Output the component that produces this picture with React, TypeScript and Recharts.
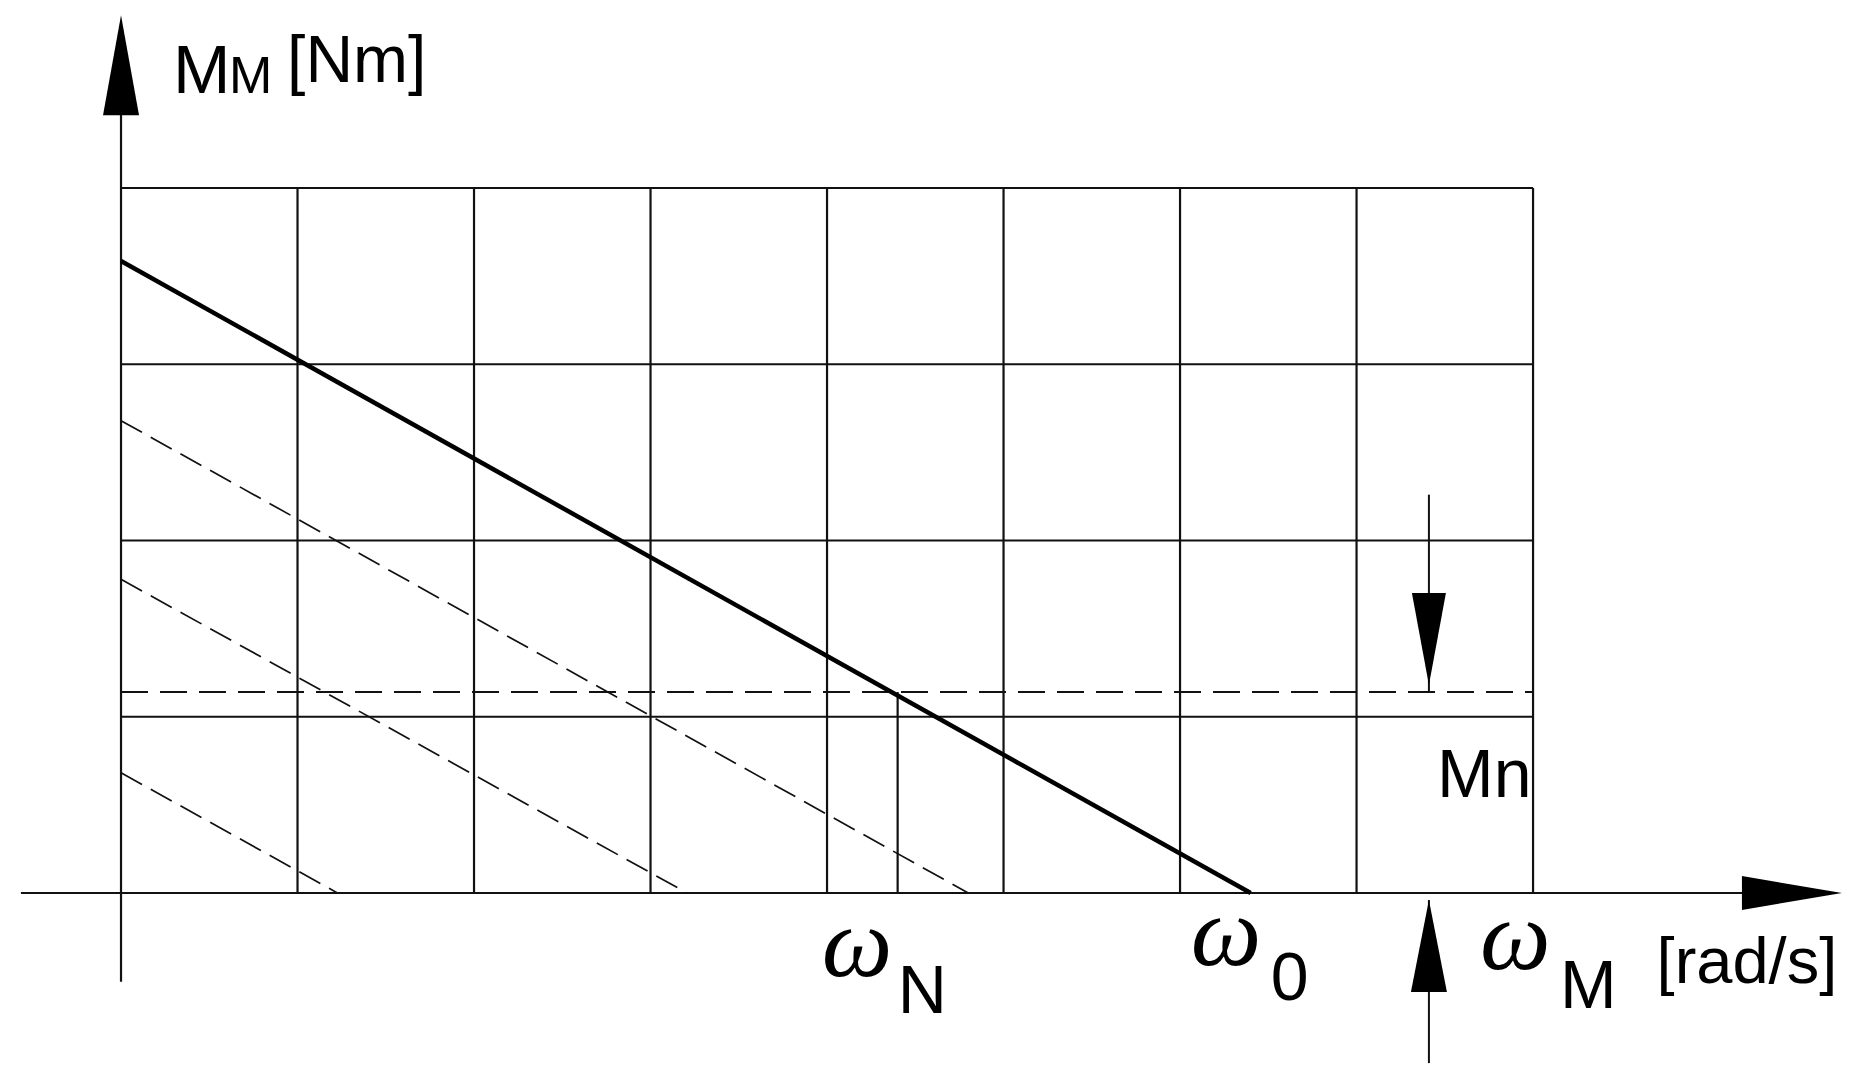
import { LineChart, Line, XAxis, YAxis, ReferenceLine, ReferenceDot } from 'recharts';

// grid units: one cell on each axis
const gridCols = [1, 2, 3, 4, 5, 6, 7, 8];
const gridRows = [1, 2, 3, 4];
const omegaN = 4.4;
const omega0 = 6.4;
const omegaM = 7.41;
const Mn = 1.14;

// natural characteristic (thick) and reduced-voltage characteristics (dashed)
const natural = [
    { x: 0, y: 3.586 },
    { x: omega0, y: 0 },
];
const reduced1 = [
    { x: 0, y: 2.68 },
    { x: 4.8, y: 0 },
];
const reduced2 = [
    { x: 0, y: 1.78 },
    { x: 3.207, y: 0 },
];
const reduced3 = [
    { x: 0, y: 0.682 },
    { x: 1.226, y: 0 },
];

const X_DOMAIN = [-0.6856, 9.824];
const Y_DOMAIN = [-1.061, 5.0667];

const INK = '#111';

type Dir = 'up' | 'down' | 'right';

const arrow = (dir: Dir, len: number, half: number) => (p: any) => {
    const { cx, cy } = p;
    let pts = '';
    if (dir === 'up') pts = `${cx},${cy} ${cx - half},${cy + len} ${cx + half},${cy + len}`;
    if (dir === 'down') pts = `${cx},${cy} ${cx - half},${cy - len} ${cx + half},${cy - len}`;
    if (dir === 'right') pts = `${cx},${cy} ${cx - len},${cy - half} ${cx - len},${cy + half}`;
    return <polygon points={pts} fill="#000" />;
};

const sans = "'Liberation Sans', Arial, sans-serif";
const serif = "'Liberation Serif', 'DejaVu Serif', serif";

const omegaLabel = (sub: string, subDx: number, subDy: number) => (p: any) => (
    <g>
        <text x={p.cx} y={p.cy} fontFamily={serif} fontStyle="italic" fontSize={100} fill="#000">
            ω
        </text>
        <text x={p.cx + subDx} y={p.cy + subDy} fontFamily={sans} fontSize={68} fill="#000">
            {sub}
        </text>
    </g>
);

const yTitle = (p: any) => (
    <g fontFamily={sans} fill="#000">
        <text x={p.cx} y={p.cy} fontSize={69}>M</text>
        <text x={p.cx + 56} y={p.cy} fontSize={52}>M</text>
        <text x={p.cx + 114} y={p.cy - 11} fontSize={66}>[Nm]</text>
    </g>
);

const plainText = (txt: string, size: number) => (p: any) => (
    <text x={p.cx} y={p.cy} fontFamily={sans} fontSize={size} fill="#000">
        {txt}
    </text>
);

const seriesProps = {
    dataKey: 'y',
    dot: false,
    activeDot: false,
    legendType: 'none' as const,
    isAnimationActive: false,
};

export default function App() {
    return (
        <div style={{ position: 'absolute', left: 0, top: 0, width: 1855, height: 1080, background: '#fff' }}>
            <LineChart width={1855} height={1080} margin={{ top: 0, right: 0, bottom: 0, left: 0 }}>
                <XAxis type="number" dataKey="x" domain={X_DOMAIN} allowDataOverflow hide />
                <YAxis type="number" dataKey="y" domain={Y_DOMAIN} allowDataOverflow hide />

                {gridCols.map((c) => (
                    <ReferenceLine
                        key={'c' + c}
                        segment={[{ x: c, y: 0 }, { x: c, y: 4 }]}
                        stroke={INK}
                        strokeWidth={2.2}
                    />
                ))}
                {gridRows.map((r) => (
                    <ReferenceLine
                        key={'r' + r}
                        segment={[{ x: 0, y: r }, { x: 8, y: r }]}
                        stroke={INK}
                        strokeWidth={2.2}
                    />
                ))}

                {/* rated speed / rated torque markers */}
                <ReferenceLine segment={[{ x: omegaN, y: 0 }, { x: omegaN, y: Mn }]} stroke={INK} strokeWidth={2.2} />
                <ReferenceLine
                    segment={[{ x: 0, y: Mn }, { x: 8, y: Mn }]}
                    stroke={INK}
                    strokeWidth={2}
                    strokeDasharray="27 12"
                />

                {/* axes */}
                <ReferenceLine segment={[{ x: -0.567, y: 0 }, { x: 9.3, y: 0 }]} stroke={INK} strokeWidth={2.2} />
                <ReferenceLine segment={[{ x: 0, y: -0.503 }, { x: 0, y: 4.5 }]} stroke={INK} strokeWidth={2.2} />
                <ReferenceDot x={9.75} y={0} ifOverflow="visible" shape={arrow('right', 100, 17)} />
                <ReferenceDot x={0} y={4.98} ifOverflow="visible" shape={arrow('up', 100, 18)} />

                {/* Mn dimension */}
                <ReferenceLine segment={[{ x: omegaM, y: 2.26 }, { x: omegaM, y: Mn }]} stroke={INK} strokeWidth={2} />
                <ReferenceLine segment={[{ x: omegaM, y: -0.04 }, { x: omegaM, y: -0.965 }]} stroke={INK} strokeWidth={2} />
                <ReferenceDot x={omegaM} y={Mn + 0.04} ifOverflow="visible" shape={arrow('down', 92, 17)} />
                <ReferenceDot x={omegaM} y={-0.04} ifOverflow="visible" shape={arrow('up', 92, 18)} />

                <Line data={reduced1} {...seriesProps} stroke={INK} strokeWidth={1.7} strokeDasharray="24 10" />
                <Line data={reduced2} {...seriesProps} stroke={INK} strokeWidth={1.7} strokeDasharray="24 10" />
                <Line data={reduced3} {...seriesProps} stroke={INK} strokeWidth={1.7} strokeDasharray="24 10" />
                <Line data={natural} {...seriesProps} stroke="#000" strokeWidth={4.5} />

                {/* labels */}
                <ReferenceDot x={0.295} y={4.539} ifOverflow="visible" shape={yTitle} />
                <ReferenceDot x={7.456} y={0.545} ifOverflow="visible" shape={plainText('Mn', 68)} />
                <ReferenceDot x={3.97} y={-0.47} ifOverflow="visible" shape={omegaLabel('N', 76, 37)} />
                <ReferenceDot x={6.06} y={-0.41} ifOverflow="visible" shape={omegaLabel('0', 80, 35)} />
                <ReferenceDot x={7.70} y={-0.43} ifOverflow="visible" shape={omegaLabel('M', 80, 39)} />
                <ReferenceDot x={8.70} y={-0.51} ifOverflow="visible" shape={plainText('[rad/s]', 65)} />
            </LineChart>
        </div>
    );
}
